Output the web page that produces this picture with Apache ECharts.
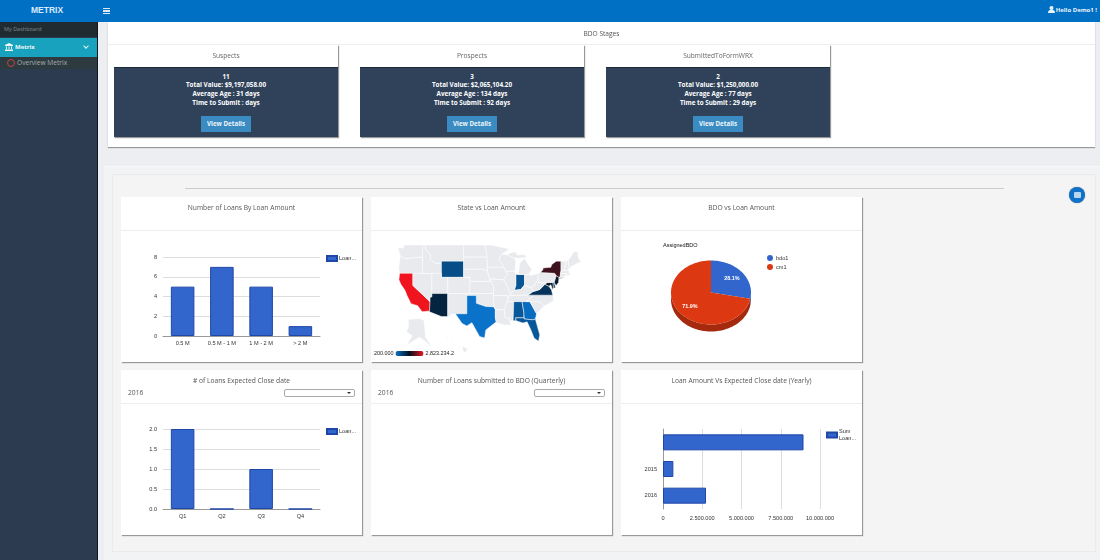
<!DOCTYPE html>
<html>
<head>
<meta charset="utf-8">
<title>Metrix</title>
<script src="https://cdn.jsdelivr.net/npm/echarts@6/dist/echarts.min.js"></script>
<style>
html,body{margin:0;padding:0;width:1100px;height:560px;overflow:hidden;background:#eceef1;font-family:"Open Sans",Lato,sans-serif;color:#555}
div{box-sizing:border-box}
.abs{position:absolute}
#topbar{left:0;top:0;width:1100px;height:22px;background:#0070c5}
#brand{left:0;top:0;width:94px;height:22px;text-align:center;color:#d8ecff;font:bold 8.5px/21px "Liberation Sans",sans-serif}
#burger{left:103px;top:8px;width:7px;height:6px;border-top:1.5px solid #dbe9f7;border-bottom:1.5px solid #dbe9f7}
#burger:after{content:"";display:block;height:1.5px;margin-top:1px;background:#dbe9f7}
#hello{right:3px;top:0;line-height:21px;font-size:6px;font-weight:700;color:#eaf3fb}
#hello svg{vertical-align:-1px;margin-right:1px}
#side{left:0;top:22px;width:98px;height:538px;background:#2c3b50;border-right:1px solid #10161d}
#side-a{left:0;top:0;width:97px;height:15px;background:#1f2b30;color:#7f8a90;font-size:5.5px;line-height:15px;padding-left:4px}
#side-b{left:0;top:15.5px;width:97px;height:19px;background:#18a2bd;color:#f0f8fa;font-size:6px;font-weight:700;line-height:19px;padding-left:15px}
#side-b svg{position:absolute;left:5px;top:5px}
#side-b i{position:absolute;right:9px;top:6px;width:3px;height:3px;border-right:1px solid #dff;border-bottom:1px solid #dff;transform:rotate(45deg)}
#side-c{left:0;top:34.5px;width:97px;height:12.5px;background:#2d3a3f;color:#a6adb2;font-size:6.6px;line-height:12.5px;padding-left:17px}
#side-c i{position:absolute;left:6.5px;top:2.5px;width:6px;height:6px;border:1.3px solid #c9423e;border-radius:50%}
#stages{left:108px;top:22px;width:987px;height:125px;background:#fff;box-shadow:0 1px 1px #999}
#stages-title{left:108px;top:22px;width:987px;height:23px;border-bottom:1px solid #eee;text-align:center;font-size:6.6px;line-height:23px;color:#555;will-change:transform}
.stage{position:absolute;top:45px;width:224px;height:92px;box-shadow:1px 1px 1px #999;background:#fff}
.stage .head{height:21.5px;text-align:center;font-size:6.6px;line-height:21px;color:#666;will-change:transform}
.stage .body{height:70.5px;background:#30425a;color:#fff;text-align:center;font-size:6.3px;font-weight:700;line-height:8.7px;padding-top:5px;border-top:1px solid #1d2a3b}
.stage .btn{width:50px;height:16px;margin:9px auto 0;background:#3a8bc2;font-size:6.2px;line-height:15px;color:#eef6fb}
#outer{left:104px;top:166px;width:996px;height:394px;background:#f2f3f5;border-top:1px solid #f8f8f8}
#inner{left:112px;top:174px;width:984px;height:378px;background:#f4f4f4;border:1px solid #eaeaea}
#rule{left:185px;top:188px;width:819px;height:1px;background:#ccc}
#roundbtn{left:1069px;top:187px;width:16px;height:16px;border-radius:50%;background:#0f72c8;box-shadow:0 0 1px #777}
#roundbtn:after{content:"";position:absolute;left:4.5px;top:5px;width:7px;height:6px;background:#b7d5ef;border-radius:1px}
.card{position:absolute;width:241px;height:165px;background:#fff;box-shadow:1px 1px 1px #999}
.card .hd{position:absolute;left:0;top:0;width:100%;height:34px;border-bottom:1px solid #eee;text-align:center;font-size:6.7px;line-height:22px;color:#555;will-change:transform}
.card .yr{position:absolute;left:7px;top:17px;font-size:6.7px;color:#555;line-height:12px;will-change:transform}
.card .sel{position:absolute;left:163px;top:19px;width:71px;height:8px;border:1px solid #aaa;border-radius:2px;background:#fff}
.card .sel:after{content:"";position:absolute;right:3px;top:2px;border:2px solid transparent;border-top:2.5px solid #333}
.chart{position:absolute;left:0;top:35px;width:241px;height:129px}
</style>
</head>
<body>
<div class="abs" id="topbar"></div>
<div class="abs" id="brand">METRIX</div>
<div class="abs" id="burger"></div>
<div class="abs" id="hello"><svg width="7" height="7" viewBox="0 0 7 7"><circle cx="3.5" cy="2" r="2" fill="#eaf3fb"/><path d="M0 7 Q0 3.8 3.5 3.8 Q7 3.8 7 7 Z" fill="#eaf3fb"/></svg>Hello Demo1 !</div>
<div class="abs" id="side">
  <div class="abs" id="side-a">My Dashboard</div>
  <div class="abs" id="side-b"><svg width="8" height="8" viewBox="0 0 8 8"><path d="M4 0 L8 2 V3 H0 V2 Z M1 3.5 H2 V6 H1 Z M3.5 3.5 H4.5 V6 H3.5 Z M6 3.5 H7 V6 H6 Z M0 6.5 H8 V8 H0 Z" fill="#f0f8fa"/></svg>Metrix<i></i></div>
  <div class="abs" id="side-c"><i></i>Overview Metrix</div>
</div>
<div class="abs" id="stages"></div>
<div class="abs" id="stages-title">BDO Stages</div>
<div id="stageCards"></div>
<div class="abs" id="outer"></div>
<div class="abs" id="inner"></div>
<div class="abs" id="rule"></div>
<div class="abs" id="roundbtn"></div>

<div class="card" style="left:121px;top:197px"><div class="hd">Number of Loans By Loan Amount</div><div class="chart" id="chartAmount"></div></div>
<div class="card" style="left:371px;top:197px"><div class="hd">State vs Loan Amount</div><div class="chart" id="chartState"></div></div>
<div class="card" style="left:621px;top:197px"><div class="hd">BDO vs Loan Amount</div><div class="chart" id="chartBdo"></div></div>
<div class="card" style="left:121px;top:370px"><div class="hd"># of Loans Expected Close date</div><div class="yr">2016</div><div class="sel"></div><div class="chart" id="chartClose"></div></div>
<div class="card" style="left:371px;top:370px"><div class="hd">Number of Loans submitted to BDO (Quarterly)</div><div class="yr">2016</div><div class="sel"></div></div>
<div class="card" style="left:621px;top:370px"><div class="hd">Loan Amount Vs Expected Close date (Yearly)</div><div class="chart" id="chartYearly"></div></div>

<script>
// stage boxes
var stageNames = ['Suspects', 'Prospects', 'SubmittedToFormWRX'];
var stageCounts = ['11', '3', '2'];
var stageTotals = ['$9,197,058.00', '$2,065,104.20', '$1,250,000.00'];
var stageAges = ['31', '134', '77'];
var stageSubmit = ['', '92', '29'];
var stageLefts = [114, 360, 606];

// bar charts
var amountLabels = ['0.5 M', '0.5 M - 1 M', '1 M - 2 M', '> 2 M'];
var amountValues = [5, 7, 5, 1];
var closeLabels = ['Q1', 'Q2', 'Q3', 'Q4'];
var closeValues = [2, 0, 1, 0];
var yearLabels = ['', '2015', '2016'];
var yearValues = [8950000, 660000, 2740000];

// pie
var bdoNames = ['bdo1', 'cm1'];
var bdoValues = [28.1, 71.9];

// state values
var stateNames = ['CA', 'NY', 'NJ', 'AZ', 'WY', 'IN', 'TX', 'GA', 'AL', 'FL', 'VA', 'MD', 'DE'];
var stateValues = [2823234.2, 1840000, 1400000, 1250000, 700000, 600000, 200000, 280000, 560000, 560000, 1050000, 1450000, 1350000];
var mapTicks = ['2.823.234.2', '200.000'];

// rough state outlines, lon/lat
var stateShapes = {
  WA: [[[-124.7,48.4],[-123,48.2],[-122.8,49],[-117,49],[-117,46],[-119,45.9],[-121,45.7],[-122.7,45.6],[-124,46.3]]],
  OR: [[[-124,46.3],[-122.7,45.6],[-121,45.7],[-119,45.9],[-117,46],[-116.9,45],[-117,44.2],[-117,42],[-124.2,42],[-124.5,43]]],
  CA: [[[-124.2,42],[-120,42],[-120,39],[-114.6,35],[-114.7,32.7],[-117.1,32.5],[-118.5,34],[-120.6,34.5],[-121.9,36.6],[-122.5,37.8],[-123.8,39.3],[-124.4,40.4]]],
  NV: [[[-120,42],[-114,42],[-114,36.2],[-114.6,36],[-114.6,35],[-120,39]]],
  ID: [[[-117,49],[-116,49],[-116,48],[-114.4,46.6],[-114.5,45.5],[-113,44.5],[-111,44.5],[-111,42],[-117,42],[-117,44.2],[-116.9,45],[-117,46]]],
  MT: [[[-116,49],[-104,49],[-104,45],[-111,45],[-111,44.5],[-113,44.5],[-114.5,45.5],[-114.4,46.6],[-116,48]]],
  WY: [[[-111,45],[-104,45],[-104,41],[-111,41]]],
  UT: [[[-114,42],[-111,42],[-111,41],[-109,41],[-109,37],[-114,37]]],
  AZ: [[[-114,37],[-109,37],[-109,31.3],[-111,31.3],[-114.8,32.5],[-114.7,32.7],[-114.6,35],[-114.6,36],[-114,36.2]]],
  CO: [[[-109,41],[-102,41],[-102,37],[-109,37]]],
  NM: [[[-109,37],[-103,37],[-103,32],[-106.6,32],[-106.5,31.8],[-108.2,31.8],[-108.2,31.3],[-109,31.3]]],
  ND: [[[-104,49],[-97.2,49],[-96.6,46],[-104,46]]],
  SD: [[[-104,46],[-96.6,46],[-96.5,42.5],[-98,43],[-104,43]]],
  NE: [[[-104,43],[-98,43],[-96.5,42.5],[-95.8,40.6],[-95.3,40],[-102,40],[-102,41],[-104,41]]],
  KS: [[[-102,40],[-95.3,40],[-94.6,39],[-94.6,37],[-102,37]]],
  OK: [[[-103,37],[-94.6,37],[-94.4,33.7],[-97,33.8],[-100,34.6],[-100,36.5],[-103,36.5]]],
  TX: [[[-106.6,32],[-103,32],[-103,36.5],[-100,36.5],[-100,34.6],[-97,33.8],[-94.4,33.7],[-94,33],[-94,31],[-93.7,30],[-94.7,29.4],[-97,28],[-97.4,26],[-99,26.4],[-101.4,29.8],[-103,29],[-104.5,29.6]]],
  MN: [[[-97.2,49],[-95.2,49],[-89.6,48],[-92,46.7],[-92.8,45.5],[-91.3,43.5],[-96.5,43.5],[-96.6,46]]],
  IA: [[[-96.5,43.5],[-91.3,43.5],[-90.2,41.8],[-91.4,40.4],[-95.8,40.6],[-96.5,42.5]]],
  MO: [[[-95.8,40.6],[-91.4,40.4],[-90.2,38.8],[-89.2,37],[-89.7,36],[-90.3,36],[-90.2,36.5],[-94.6,36.5],[-94.6,39],[-95.3,40]]],
  AR: [[[-94.6,36.5],[-90.2,36.5],[-90.3,36],[-89.7,36],[-91.2,33],[-94,33],[-94.4,33.7]]],
  LA: [[[-94,33],[-91.2,33],[-90.9,31],[-89.7,31],[-89.5,30.2],[-89,29.2],[-91,29.2],[-93.7,29.8],[-93.7,30],[-94,31]]],
  WI: [[[-92,46.7],[-90.4,46.6],[-88,45.8],[-87.6,45],[-87.8,42.5],[-90.6,42.5],[-91.3,43.5],[-92.8,45.5]]],
  IL: [[[-90.6,42.5],[-87.8,42.5],[-87.5,41.7],[-87.5,39],[-88,37.8],[-89.2,37],[-90.2,38.8],[-91.4,40.4],[-90.2,41.8]]],
  IN: [[[-87.5,41.7],[-84.8,41.7],[-84.8,39.1],[-86,38],[-88,37.8],[-87.5,39]]],
  MI: [[[-86.8,41.7],[-83.5,41.7],[-82.5,43],[-83.5,44],[-84.8,45.7],[-86.2,44.7]],[[-90.4,46.6],[-88,47.4],[-87,46.5],[-85,46.7],[-84,46],[-87,45.7],[-88,45.8]]],
  OH: [[[-84.8,41.7],[-83.5,41.7],[-82.7,41.5],[-80.5,42],[-80.5,40.6],[-81.7,39],[-82.6,38.4],[-84.8,39.1]]],
  KY: [[[-89.5,36.5],[-88,36.5],[-83.7,36.6],[-82,37.5],[-82.6,38.4],[-84.8,39.1],[-86,38],[-88,37.8],[-89.2,37]]],
  TN: [[[-89.5,36.5],[-83.7,36.6],[-81.7,36.6],[-84.3,35],[-90.3,35]]],
  MS: [[[-90.3,35],[-88.2,35],[-88.4,30.3],[-89.5,30.2],[-89.7,31],[-90.9,31],[-91.2,33]]],
  AL: [[[-88.2,35],[-85.6,35],[-85,32.3],[-85,31],[-87.6,31],[-87.5,30.3],[-88.4,30.3]]],
  GA: [[[-85.6,35],[-83.1,35],[-81,32],[-81.4,30.7],[-82.2,30.5],[-84.9,30.7],[-85,32.3]]],
  FL: [[[-87.6,31],[-85,31],[-84.9,30.7],[-82.2,30.5],[-81.4,30.7],[-80,26.8],[-80.4,25.2],[-81.8,26],[-82.8,28],[-84,30],[-85.3,29.7],[-87.5,30.3]]],
  SC: [[[-83.1,35],[-81,35.1],[-79.7,34.8],[-78.6,33.9],[-81,32]]],
  NC: [[[-84.3,35],[-83.1,35],[-81,35.1],[-79.7,34.8],[-78.6,33.9],[-77,34.6],[-75.6,35.3],[-75.9,36.6],[-81.7,36.6]]],
  VA: [[[-83.7,36.6],[-75.9,36.6],[-76.3,37.9],[-77.1,38.8],[-78.4,39.3],[-80,38],[-82,37.5]]],
  WV: [[[-82,37.5],[-80,38],[-78.4,39.3],[-77.8,39.6],[-79.5,39.7],[-80.5,39.7],[-80.5,40.6],[-81.7,39],[-82.6,38.4]]],
  MD: [[[-79.5,39.7],[-75.8,39.7],[-75.7,38.4],[-76,38],[-76.5,39.2],[-77.1,38.8],[-78.4,39.3],[-77.8,39.6]]],
  DE: [[[-75.8,39.7],[-75.4,39.7],[-75.1,38.4],[-75.7,38.4]]],
  PA: [[[-80.5,42],[-79.8,42.2],[-75.3,42],[-74.8,41.4],[-75.4,39.8],[-80.5,39.7]]],
  NY: [[[-79.8,42.2],[-79,42.9],[-79,43.3],[-76.5,43.5],[-76.2,44.2],[-74.8,45],[-73.3,45],[-73.3,42.7],[-73.5,41.2],[-74,41],[-74.8,41.4],[-75.3,42]],[[-74,40.6],[-72,41],[-73.7,40.9]]],
  NJ: [[[-75.4,39.8],[-74.8,41.4],[-74,41],[-74,40.4],[-74.1,39.7],[-74.9,38.9]]],
  CT: [[[-73.5,42],[-71.8,42],[-71.8,41.3],[-73.6,41]]],
  RI: [[[-71.8,42],[-71.4,42],[-71.2,41.5],[-71.8,41.3]]],
  MA: [[[-73.3,42.7],[-71.3,42.7],[-70.7,42.6],[-70.8,42],[-70,41.7],[-71.2,41.5],[-71.4,42],[-73.5,42]]],
  VT: [[[-73.3,45],[-71.5,45],[-72.4,42.7],[-73.3,42.7]]],
  NH: [[[-71.5,45],[-71,45.3],[-70.7,43],[-71.3,42.7],[-72.4,42.7]]],
  ME: [[[-71,45.3],[-70.3,46],[-69.2,47.4],[-68,47.3],[-67.8,45.7],[-67,44.9],[-70.2,43.6],[-70.7,43]]],
  // insets, placed under the south west like the original
  AK: [[[-121.5,30.6],[-118,30.8],[-116.5,30.4],[-116,26.2],[-114,23.8],[-116.8,25.6],[-118,26.2],[-122,24.2],[-120.2,26.6],[-122,27.5],[-121.3,29]]],
  HI: [[[-109.5,26.2],[-108.9,26],[-109.3,25.7]],[[-107.6,25.2],[-107,24.9],[-107.4,24.7]],[[-105.5,24],[-104.8,23.7],[-105.2,23.5]],[[-104.3,24],[-102.8,23.3],[-103.4,22.3],[-104.2,22.8]]]
};

function metric(value) {
  return value.toLocaleString('de-DE');
}

// stage cards
var stageHtml = '';
for (var i = 0; i < stageNames.length; i++) {
  stageHtml += '<div class="stage" style="left:' + stageLefts[i] + 'px">' +
    '<div class="head">' + stageNames[i] + '</div>' +
    '<div class="body">' + stageCounts[i] + '<br>Total Value: ' + stageTotals[i] +
    '<br>Average Age : ' + stageAges[i] + ' days<br>Time to Submit : ' + stageSubmit[i] + ' days' +
    '<div class="btn">View Details</div></div></div>';
}
document.getElementById('stageCards').innerHTML = stageHtml;

var axisFont = {fontFamily: 'Liberation Sans', fontSize: 5.6, color: '#333'};
var barStyle = {color: '#3366cc', borderColor: '#1f47a8', borderWidth: 1};

function barLegend(name) {
  return {
    data: [{name: name, icon: 'rect'}],
    left: 205, top: 23, padding: 0, itemWidth: 10, itemHeight: 5, itemGap: 0,
    selectedMode: false,
    textStyle: {fontFamily: 'Liberation Sans', fontSize: 5.6, color: '#333', padding: [0, 0, 0, -3], lineHeight: 7}
  };
}

function columnChart(id, labels, values, max, interval, digits, top) {
  var chart = echarts.init(document.getElementById(id));
  chart.setOption({
    animation: false,
    legend: barLegend('Loan...'),
    grid: {left: 42, right: 42, top: top, bottom: 25},
    xAxis: {
      type: 'category', data: labels,
      axisTick: {show: false},
      axisLine: {lineStyle: {color: '#999'}},
      axisLabel: Object.assign({margin: 4, interval: 0}, axisFont)
    },
    yAxis: {
      type: 'value', min: 0, max: max, interval: interval,
      axisLine: {show: false}, axisTick: {show: false},
      splitLine: {lineStyle: {color: '#ddd'}},
      axisLabel: Object.assign({margin: 6, formatter: function (v) { return v.toFixed(digits); }}, axisFont)
    },
    series: [{name: 'Loan...', type: 'bar', barWidth: '60%', itemStyle: barStyle, data: values}]
  });
}

columnChart('chartAmount', amountLabels, amountValues, 8, 2, 0, 25);
columnChart('chartClose', closeLabels, closeValues, 2, 0.5, 1, 24);

// yearly, horizontal bars
var yearly = echarts.init(document.getElementById('chartYearly'));
yearly.setOption({
  animation: false,
  legend: barLegend('Sum\nLoan...'),
  grid: {left: 42, right: 42, top: 24, bottom: 25},
  xAxis: {
    type: 'value', min: 0, max: 10000000, interval: 2500000,
    axisLine: {show: false}, axisTick: {show: false},
    splitLine: {lineStyle: {color: '#ddd'}},
    axisLabel: Object.assign({margin: 6, formatter: function (v) { return metric(v); }}, axisFont)
  },
  yAxis: {
    type: 'category', data: yearLabels, inverse: true,
    axisTick: {show: false},
    axisLine: {lineStyle: {color: '#999'}},
    axisLabel: Object.assign({margin: 6, interval: 0}, axisFont)
  },
  series: [{name: 'Sum\nLoan...', type: 'bar', barWidth: '60%', itemStyle: barStyle, data: yearValues}]
});

// US map
var features = [];
for (var code in stateShapes) {
  features.push({
    type: 'Feature', properties: {name: code},
    geometry: {type: 'MultiPolygon', coordinates: stateShapes[code].map(function (ring) { return [ring]; })}
  });
}
echarts.registerMap('usa', {type: 'FeatureCollection', features: features});

var stateChart = echarts.init(document.getElementById('chartState'));
stateChart.setOption({
  animation: false,
  visualMap: {
    type: 'continuous', min: 200000, max: 2823234.2, orient: 'horizontal',
    left: 3, bottom: 5, padding: 0, itemWidth: 5, itemHeight: 28, textGap: 2,
    calculable: false, realtime: false, hoverLink: false,
    text: mapTicks,
    textStyle: {fontFamily: 'Liberation Sans', fontSize: 5.4, color: '#222'},
    inRange: {color: ['#0a72c8', '#02101e', '#f0141e']}
  },
  series: [{
    type: 'map', map: 'usa', aspectScale: 0.783, silent: true,
    left: 27, top: 13, width: 183, height: 108,
    label: {show: false},
    itemStyle: {areaColor: '#e8eaee', borderColor: '#fff', borderWidth: 0.5},
    emphasis: {disabled: true},
    select: {disabled: true},
    data: stateNames.map(function (n, i) { return {name: n, value: stateValues[i]}; })
  }]
});

// 3d looking pie, the original is squashed so a plain pie series can't do it
var bdoColors = ['#3366cc', '#dc3912'];
var bdoSides = ['#26509e', '#a52a0d'];
var bdoTotal = bdoValues.reduce(function (a, b) { return a + b; }, 0);
var pieX = 90, pieY = 60.5, pieRx = 40, pieRy = 32, pieDepth = 7;

function rim(a, dy) {
  return [pieX + pieRx * Math.sin(a), pieY + dy - pieRy * Math.cos(a)];
}

function pieSlice(seriesIdx) {
  return function (params, api) {
    var from = api.value(0) / bdoTotal * 2 * Math.PI;
    var to = from + api.value(1) / bdoTotal * 2 * Math.PI;
    var top = [[pieX, pieY]], a;
    for (a = from; a < to; a += 0.03) top.push(rim(a, 0));
    top.push(rim(to, 0));

    var kids = [];
    // front wall only shows between 90 and 270 degrees
    var f = Math.max(from, Math.PI / 2), t = Math.min(to, Math.PI * 1.5);
    if (t > f) {
      var wall = [];
      for (a = f; a < t; a += 0.03) wall.push(rim(a, 0));
      wall.push(rim(t, 0));
      for (a = t; a > f; a -= 0.03) wall.push(rim(a, pieDepth));
      wall.push(rim(f, pieDepth));
      kids.push({type: 'polygon', shape: {points: wall}, style: {fill: bdoSides[seriesIdx]}});
    }
    kids.push({type: 'polygon', shape: {points: top}, style: {fill: bdoColors[seriesIdx]}});

    var mid = (from + to) / 2;
    kids.push({
      type: 'text',
      x: pieX + pieRx * 0.68 * Math.sin(mid),
      y: pieY - pieRy * 0.68 * Math.cos(mid),
      style: {
        text: api.value(1).toFixed(1) + '%', fill: '#fff',
        font: 'bold 5.4px "Liberation Sans"', align: 'center', verticalAlign: 'middle'
      }
    });
    return {type: 'group', children: kids};
  };
}

var bdoChart = echarts.init(document.getElementById('chartBdo'));
var running = 0;
bdoChart.setOption({
  animation: false,
  color: bdoColors,
  title: {
    text: 'AssignedBDO', left: 42, top: 10, padding: 0,
    textStyle: {fontFamily: 'Liberation Sans', fontSize: 5.5, fontWeight: 'normal', color: '#111'}
  },
  legend: {
    data: bdoNames.map(function (n) { return {name: n, icon: 'circle'}; }),
    orient: 'vertical', left: 146, top: 23, padding: 0, itemWidth: 6, itemHeight: 6, itemGap: 3,
    selectedMode: false,
    textStyle: {fontFamily: 'Liberation Sans', fontSize: 5.6, color: '#333', padding: [0, 0, 0, -2]}
  },
  series: bdoNames.map(function (n, i) {
    var start = running;
    running += bdoValues[i];
    return {
      name: n, type: 'custom', coordinateSystem: 'none', silent: true,
      z: i === 0 ? 2 : 3,
      renderItem: pieSlice(i),
      data: [[start, bdoValues[i]]]
    };
  })
});
</script>
</body>
</html>
